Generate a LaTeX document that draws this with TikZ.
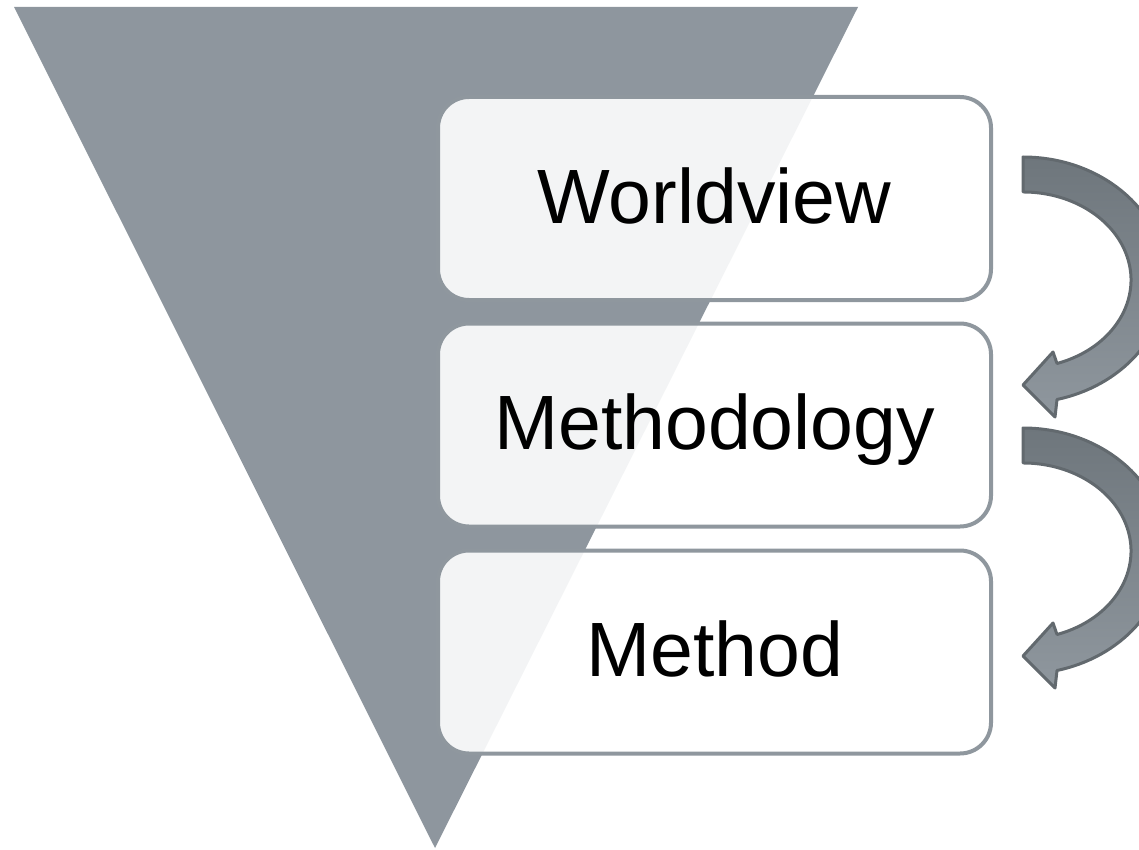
\documentclass[tikz,border=0pt]{standalone}
\usepackage{fontspec}
\setmainfont{Liberation Sans}
\definecolor{funnel}{HTML}{8E969E}
\definecolor{boxline}{HTML}{8F979E}
\definecolor{arrowtop}{HTML}{6E767C}
\definecolor{arrowbot}{HTML}{8F979E}
\definecolor{arrowline}{HTML}{62696E}
\tikzset{
  level/.style={draw=boxline, line width=4pt, rounded corners=31pt,
    fill=white, fill opacity=0.9, text opacity=1,
    minimum width=553pt, minimum height=203pt,
    text height=56pt, text depth=7pt, font=\fontsize{77}{90}\selectfont},
  bendarrow/.style={draw=arrowline, line width=3pt, line join=round,
    top color=arrowtop, bottom color=arrowbot}
}
\begin{document}
\begin{tikzpicture}[x=1pt,y=-1pt]
                \useasboundingbox (0,0) rectangle (1139,850);
                \clip (0,0) rectangle (1139,850);
                \fill[funnel] (14,7) -- (858,7) -- (435,848) -- cycle;
                \node[level] (worldview) at (714.5,198.5) {Worldview};
                \node[level] (methodology) at (714.5,425) {Methodology};
                \node[level] (method) at (714.5,652) {Method};
                \foreach \dy in {0,271}
                  \draw[bendarrow, shift={(0,\dy)}] (1023,157)
                    arc[start angle=-90, end angle=76.24, x radius=143, y radius=123]
                    -- (1055,417) -- (1023,385) -- (1053,352) -- (1057,363.5)
                    arc[start angle=71.65, end angle=-90, x radius=108, y radius=88]
                    -- cycle;
            \end{tikzpicture}
\end{document}
